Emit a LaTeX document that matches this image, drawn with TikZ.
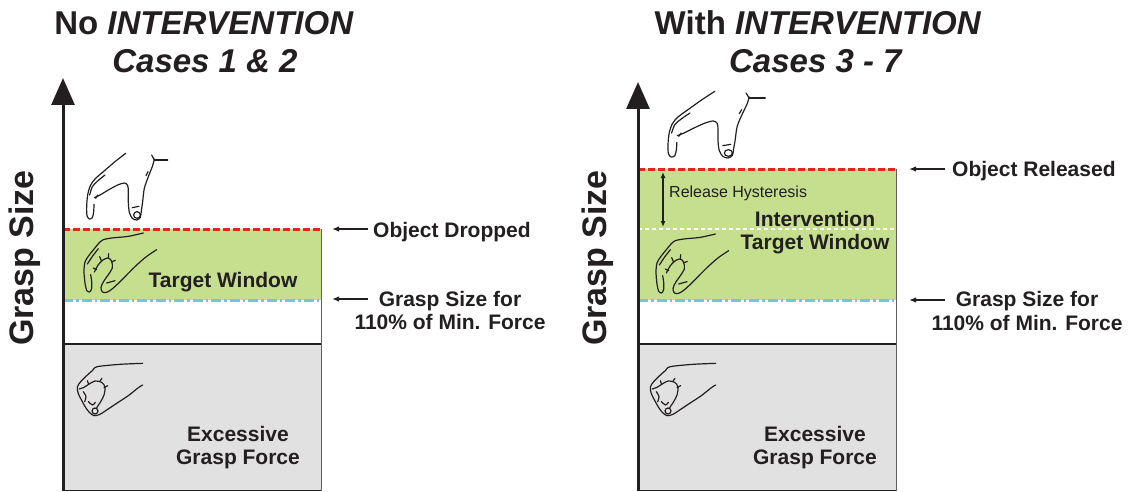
\documentclass[tikz,border=0pt]{standalone}
\usepackage{fontspec}
\setmainfont{Liberation Sans}
\usetikzlibrary{arrows.meta}
\definecolor{ink}{RGB}{35,31,32}
\definecolor{windowgreen}{RGB}{197,223,142}
\definecolor{forcegrey}{RGB}{225,225,225}
\definecolor{droppedred}{RGB}{226,38,30}
\definecolor{minblue}{RGB}{112,196,238}
\definecolor{edgegrey}{RGB}{95,95,95}

\tikzset{
  titletext/.style={font=\fontsize{33}{38}\selectfont\bfseries, text=ink, anchor=base, inner sep=0pt},
  lbl/.style={font=\fontsize{21}{23.5}\selectfont\bfseries, text=ink, inner sep=0pt, align=center, anchor=base},
  sidelbl/.style={font=\fontsize{21}{23.5}\selectfont\bfseries, text=ink, inner sep=0pt, anchor=base west},
  hyst/.style={font=\fontsize{16}{18}\selectfont, text=ink, inner sep=0pt, anchor=base west},
  axislabel/.style={font=\fontsize{34}{40}\selectfont\bfseries, rotate=90, text=ink, inner sep=0pt},
  gaxis/.style={line width=3pt, draw=ink, -{Triangle[width=23pt,length=27pt]}},
  pointer/.style={line width=1.4pt, draw=ink, -{Latex[length=7pt,width=5.5pt]}},
  hystarrow/.style={line width=1.3pt, draw=ink, {Latex[length=6pt,width=5pt]}-{Latex[length=6pt,width=5pt]}},
  dropline/.style={line width=3pt, draw=droppedred, dash pattern=on 7pt off 3pt},
  minline/.style={line width=3pt, draw=minblue, dash pattern=on 10pt off 3pt on 2.5pt off 3pt},
  hystline/.style={line width=1.5pt, draw=white, dash pattern=on 4pt off 3pt},
  edge/.style={line width=1pt, draw=edgegrey},
  floor/.style={line width=1.6pt, draw=ink},
  hand/.style={line width=1.2pt, draw=ink, line cap=round, line join=round},
  % open hand, fingers apart
  handopen/.pic={
    \draw[hand] plot[smooth] coordinates {(152,25) (120,50) (85,80) (60,102) (46,122) (38,150) (35,185) (36,212) (43,222) (52,218) (56,200) (57,178)};
    \draw[hand] plot[smooth] coordinates {(44,150) (52,125) (68,108) (90,90)};
    \draw[hand] plot[smooth] coordinates {(58,158) (75,150) (100,135) (128,120) (148,114) (158,121) (160,140) (160,172) (163,202) (172,220) (185,225) (196,217) (199,198) (203,170) (208,130) (220,95) (233,62) (238,42)};
    \draw[hand] (186,210) circle[radius=10];
    \draw[hand] (238,45) -- (278,45);
    \draw[hand] (230,30) -- (238,45);
    \draw[hand] (213,92) -- (219,80);
    \draw[hand] (172,188) -- (192,184);
    \draw[hand] (62,160) -- (68,150);
  },
  % hand closing on the object
  handhalf/.pic={
    \draw[hand] plot[smooth] coordinates {(205,15) (160,25) (110,30) (85,35) (72,45) (58,62) (42,82) (30,102) (27,130) (30,165) (35,187) (44,192) (50,181) (50,160) (47,140)};
    \draw[hand] plot[smooth] coordinates {(37,108) (53,84) (70,62)};
    \draw[hand] plot[smooth] coordinates {(58,132) (70,110) (85,95) (100,90) (110,100) (112,120) (100,140) (86,160) (78,178) (82,192) (95,193) (110,184) (128,168) (152,144) (182,114) (214,86) (245,65)};
    \draw[hand] (80,100) -- (74,86);
    \draw[hand] (100,90) -- (101,77);
    \draw[hand] (109,102) -- (121,97);
    \draw[hand] (65,125) -- (55,120);
    \draw[hand] (95,165) -- (120,158);
  },
  % hand squeezing hard
  handclosed/.pic={
    \draw[hand] plot[smooth] coordinates {(218,25) (150,28) (82,35) (68,46) (50,62) (32,80) (22,96) (25,116) (35,136) (46,156) (58,172) (72,182) (90,178) (110,165) (140,145) (175,122) (205,98) (218,90)};
    \draw[hand] plot[smooth] coordinates {(28,102) (42,97) (56,88) (75,78) (95,82) (105,96) (102,120) (92,140) (80,158)};
    \draw[hand] (56,88) -- (52,77);
    \draw[hand] (90,78) -- (96,70);
    \draw[hand] (102,98) -- (113,92);
    \draw[hand] plot[smooth] coordinates {(40,110) (48,125) (44,140)};
    \draw[hand] plot[smooth] coordinates {(55,140) (68,150) (76,142)};
    \draw[hand] (75,168) circle[radius=9];
  }
}

\begin{document}
\begin{tikzpicture}[x=1pt,y=-1pt]
\useasboundingbox[fill=white] (0,0) rectangle (1132,492);

% ---------------- left panel: no intervention ----------------
\fill[windowgreen] (63,229) rectangle (321,300);
\fill[forcegrey] (63,344) rectangle (321,491);
\draw[edge] (321,229) -- (321,491);
\draw[floor] (63,344) -- (321,344);
\draw[floor] (63,490.5) -- (321,490.5);
\draw[dropline] (63,229) -- (321,229);
\draw[minline] (63,300) -- (321,300);

\coordinate (la0) at (63,491);
\coordinate (la1) at (63,78);
\draw[gaxis] (la0) -- (la1);

\node[titletext] (lt1) at (204,35) {No \textit{INTERVENTION}};
\node[titletext] (lt2) at (205,73) {\textit{Cases 1 \& 2}};
\node[axislabel] (lgs) at (25,258) {Grasp Size};

\pic[scale=1/3] at (75,145) {handopen};
\pic[scale=1/3] at (75,228) {handhalf};
\pic[scale=1/3] at (70,355) {handclosed};

\node[lbl] (ltw) at (223,287) {Target Window};
\node[lbl] (lef) at (238,464.5) {Excessive\\Grasp Force};
\node[sidelbl] (lod) at (373,237) {Object Dropped};
\node[lbl] (lgf) at (450,329.5) {Grasp Size for\\110\% of Min. Force};

\coordinate (lp1a) at (368,229);
\coordinate (lp1b) at (332,229);
\coordinate (lp2a) at (368,299);
\coordinate (lp2b) at (332,299);
\draw[pointer] (lp1a) -- (lp1b);
\draw[pointer] (lp2a) -- (lp2b);

% ---------------- right panel: with intervention ----------------
\fill[windowgreen] (638,169) rectangle (896,300);
\fill[forcegrey] (638,344) rectangle (896,491);
\draw[edge] (896,169) -- (896,491);
\draw[floor] (638,344) -- (896,344);
\draw[floor] (638,490.5) -- (896,490.5);
\draw[hystline] (638,229) -- (896,229);
\draw[dropline] (638,169) -- (896,169);
\draw[minline] (638,300) -- (896,300);

\coordinate (ra0) at (638,491);
\coordinate (ra1) at (638,82);
\draw[gaxis] (ra0) -- (ra1);

\node[titletext] (rt1) at (818,35) {With \textit{INTERVENTION}};
\node[titletext] (rt2) at (816,73) {\textit{Cases 3 - 7}};
\node[axislabel] (rgs) at (598,258) {Grasp Size};

\pic[xscale=0.4,yscale=1/3] at (654,83) {handopen};
\pic[scale=1/3] at (647,229) {handhalf};
\pic[scale=1/3] at (643,355) {handclosed};

\coordinate (rh0) at (663,172);
\coordinate (rh1) at (663,227);
\draw[hystarrow] (rh0) -- (rh1);
\node[hyst] (rrh) at (669,197) {Release Hysteresis};

\node[lbl] (rit) at (815,249.5) {Intervention\\Target Window};
\node[lbl] (ref) at (815,464.5) {Excessive\\Grasp Force};
\node[sidelbl] (ror) at (952,176) {Object Released};
\node[lbl] (rgf) at (1027,330) {Grasp Size for\\110\% of Min. Force};

\coordinate (rp1a) at (945,169);
\coordinate (rp1b) at (909,169);
\coordinate (rp2a) at (945,300);
\coordinate (rp2b) at (909,300);
\draw[pointer] (rp1a) -- (rp1b);
\draw[pointer] (rp2a) -- (rp2b);
\end{tikzpicture}
\end{document}
